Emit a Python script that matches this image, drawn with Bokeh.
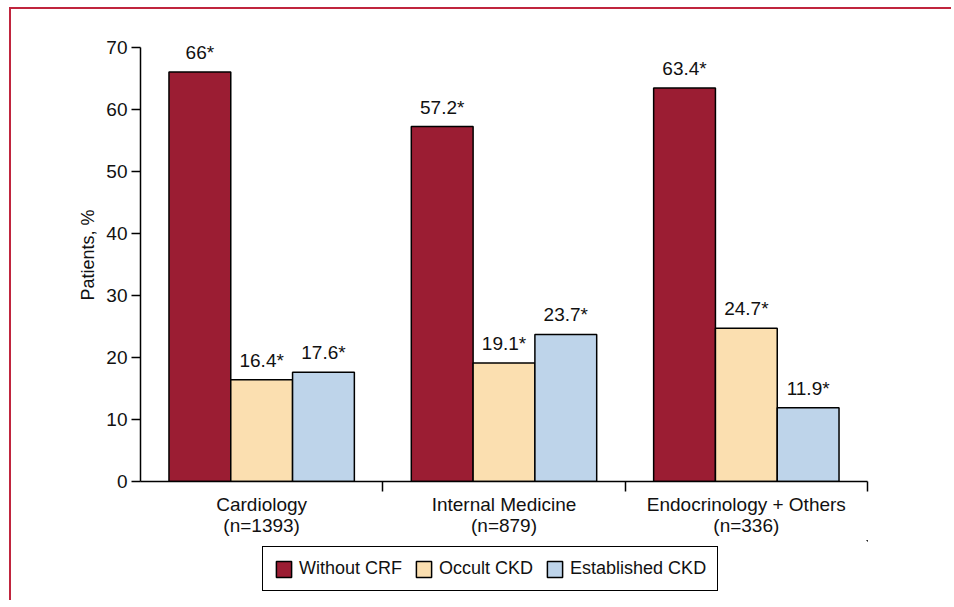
from bokeh.plotting import figure
from bokeh.layouts import column
from bokeh.models import ColumnDataSource, FixedTicker, Legend, LegendItem, Range1d
from bokeh.core.properties import value
from bokeh.embed import file_html
from bokeh.resources import INLINE

categories = ["Cardiology\n(n=1393)", "Internal Medicine\n(n=879)", "Endocrinology + Others\n(n=336)"]
series = ["Without CRF", "Occult CKD", "Established CKD"]
without_crf = [66, 57.2, 63.4]
occult_ckd = [16.4, 19.1, 24.7]
established_ckd = [17.6, 23.7, 11.9]
labels_without = ["66*", "57.2*", "63.4*"]
labels_occult = ["16.4*", "19.1*", "24.7*"]
labels_established = ["17.6*", "23.7*", "11.9*"]
y_ticks = [0, 10, 20, 30, 40, 50, 60, 70]

colors = ["#9b1d33", "#fbdfb0", "#bed4ea"]
FONT = "Liberation Sans"
FS = "19px"
BW = 0.255

p = figure(width=940, height=531, output_backend="svg", toolbar_location=None,
           x_range=Range1d(0, 3), y_range=Range1d(0, 73),
           min_border_left=129, min_border_top=19, min_border_right=84, min_border_bottom=59)
p.outline_line_color = None
p.xgrid.grid_line_color = None
p.ygrid.grid_line_color = None
p.background_fill_color = "white"
p.border_fill_color = "white"

centers = [i + 0.5 for i in range(len(categories))]
data_sets = [without_crf, occult_ckd, established_ckd]
label_sets = [labels_without, labels_occult, labels_established]
offsets = [-BW, 0, BW]
sources = []
for vals, labs, off, col in zip(data_sets, label_sets, offsets, colors):
    src = ColumnDataSource(dict(x=[c + off for c in centers], top=vals, lab=labs))
    sources.append(src)
    p.vbar(x="x", top="top", width=BW, bottom=0, source=src, fill_color=col,
           line_color="black", line_width=1.5)
    p.text(x="x", y="top", text="lab", source=src, text_align="center", text_baseline="bottom",
           y_offset=-9, text_font=value(FONT), text_font_size=FS, text_color="#111111")

# x axis
xa = p.xaxis[0]
xa.ticker = FixedTicker(ticks=centers, minor_ticks=[1, 2, 3])
xa.major_label_overrides = {c: lab for c, lab in zip(centers, categories)}
xa.major_tick_line_color = None
xa.major_tick_out = 0
xa.major_tick_in = 0
xa.minor_tick_out = 10
xa.minor_tick_in = 0
xa.minor_tick_line_color = "black"
xa.minor_tick_line_width = 1.5
xa.axis_line_width = 1.5
xa.axis_line_color = "black"
xa.major_label_standoff = 2
xa.major_label_text_font = FONT
xa.major_label_text_font_size = FS
xa.major_label_text_line_height = 1.0
xa.major_label_text_color = "#111111"

ya = p.yaxis[0]
ya.ticker = FixedTicker(ticks=y_ticks)
ya.bounds = (0, 70)
ya.minor_tick_line_color = None
ya.major_tick_out = 9
ya.major_tick_in = 0
ya.major_tick_line_width = 1.5
ya.axis_line_width = 1.5
ya.major_label_standoff = 4
ya.major_label_text_font = FONT
ya.major_label_text_font_size = FS
ya.major_label_text_color = "#111111"
ya.axis_label = "Patients, %"
ya.axis_label_text_font = FONT
ya.axis_label_text_font_size = "18px"
ya.axis_label_text_font_style = "normal"
ya.axis_label_text_color = "#111111"
ya.axis_label_standoff = 5

# legend in its own strip below the chart (its proxy bars fall far outside its ranges)
lf = figure(width=940, height=60, output_backend="svg", toolbar_location=None,
            x_range=Range1d(-20, -17), y_range=Range1d(-2, -1),
            x_axis_location=None, y_axis_location=None,
            min_border_left=0, min_border_right=0, min_border_top=0, min_border_bottom=0)
lf.outline_line_color = None
lf.xgrid.grid_line_color = None
lf.ygrid.grid_line_color = None
lf.background_fill_color = "white"
legend_renderers = []
for src, col in zip(sources, colors):
    r = lf.vbar(x="x", top="top", width=BW, bottom=0, source=src, fill_color=col,
                line_color="black", line_width=1.5)
    legend_renderers.append(r)

legend = Legend(items=[LegendItem(label=s, renderers=[r]) for s, r in zip(series, legend_renderers)],
                orientation="horizontal", location=(122, 9))
legend.border_line_color = "black"
legend.border_line_alpha = 1.0
legend.border_line_width = 1.5
legend.label_text_font = FONT
legend.label_text_font_size = "18px"
legend.label_text_color = "#111111"
legend.glyph_width = 19
legend.glyph_height = 20
legend.label_standoff = 6
legend.spacing = 12
legend.padding = 11
legend.margin = 0
legend.background_fill_alpha = 1
lf.add_layout(legend, "center")

layout = column(p, lf, spacing=0)
layout.styles = {"border-top": "2px solid #c0253e", "border-left": "2px solid #c0253e",
                 "margin-top": "7px", "margin-left": "9px"}

open("out.html", "w").write(file_html(layout, INLINE))
